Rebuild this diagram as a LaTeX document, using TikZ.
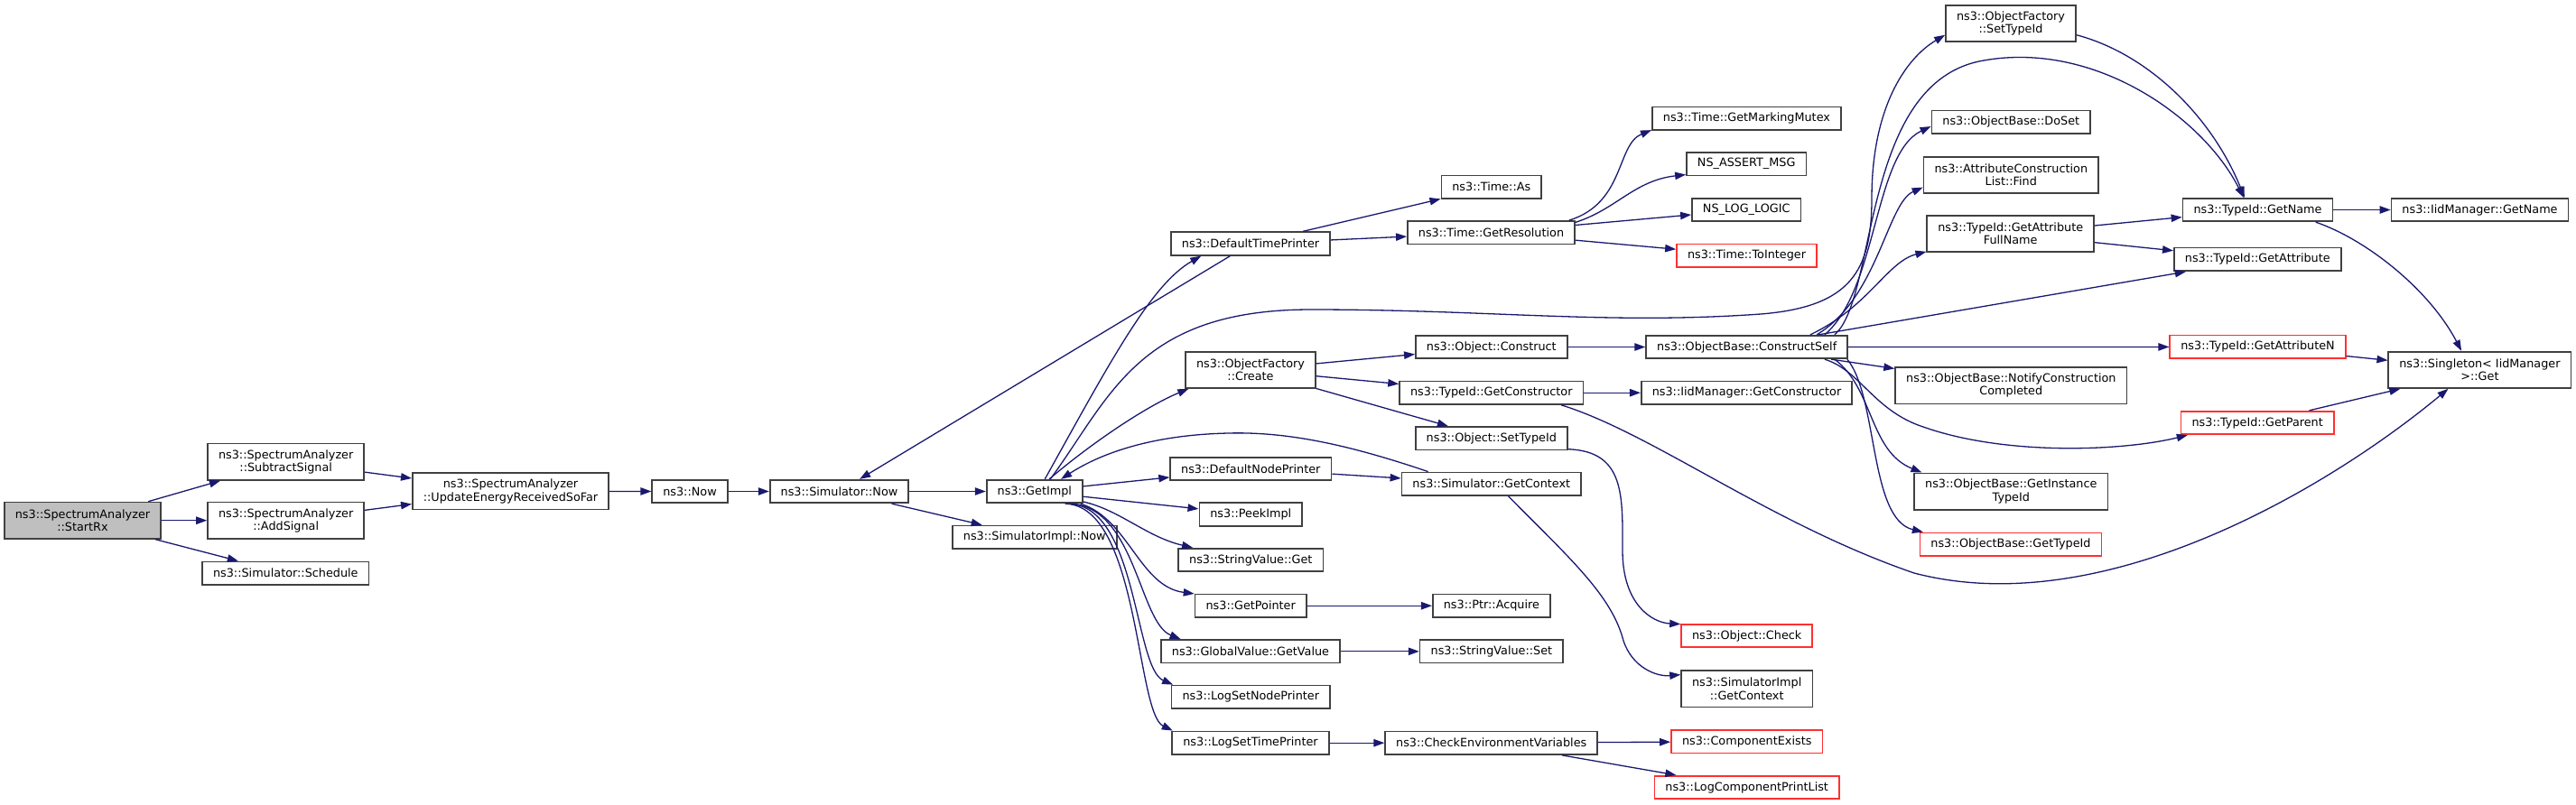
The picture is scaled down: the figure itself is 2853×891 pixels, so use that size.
\documentclass[tikz,border=0pt]{standalone}
\usepackage{fontspec}
\setmainfont{DejaVu Sans}
\usetikzlibrary{arrows.meta}
\definecolor{callblue}{HTML}{191970}
\definecolor{boxgray}{HTML}{404040}
\definecolor{trunc}{HTML}{FF3030}

\begin{document}
\begin{tikzpicture}[x=0.5pt, y=-0.5pt,
  font=\fontsize{6.4}{7.2}\selectfont,
  >={Triangle[length=6pt,width=4.2pt]},
  box/.style={draw=boxgray, line width=0.85pt, fill=white, align=center,
              inner xsep=6pt, inner ysep=0pt, minimum height=12.8pt},
  box2/.style={box, minimum height=20.15pt},
  root/.style={fill=black!25},
  cut/.style={draw=trunc},
  call/.style={->, draw=callblue, line width=0.65pt}]
  \path[use as bounding box, fill=white] (0,0) rectangle (2853,891);
  \node[box2, root] (startrx) at (91.5,576.7) {ns3::SpectrumAnalyzer\\::StartRx};
  \node[box2] (subsig) at (316.7,511.7) {ns3::SpectrumAnalyzer\\::SubtractSignal};
  \node[box2] (addsig) at (316.7,576.7) {ns3::SpectrumAnalyzer\\::AddSignal};
  \node[box] (sched) at (316.3,635.2) {ns3::Simulator::Schedule};
  \node[box2] (update) at (565.5,544.3) {ns3::SpectrumAnalyzer\\::UpdateEnergyReceivedSoFar};
  \node[box] (now) at (764,544.5) {ns3::Now};
  \node[box] (simnow) at (929.5,544.5) {ns3::Simulator::Now};
  \node[box] (getimpl) at (1145.8,544.5) {ns3::GetImpl};
  \node[box] (implnow) at (1145.8,595.3) {ns3::SimulatorImpl::Now};
  \node[box] (deftime) at (1385,270) {ns3::DefaultTimePrinter};
  \node[box2] (create) at (1385,409.8) {ns3::ObjectFactory\\::Create};
  \node[box] (defnode) at (1385.3,519.5) {ns3::DefaultNodePrinter};
  \node[box] (peek) at (1385.3,570) {ns3::PeekImpl};
  \node[box] (strget) at (1385.3,620.5) {ns3::StringValue::Get};
  \node[box] (getptr) at (1385.2,671.2) {ns3::GetPointer};
  \node[box] (gvget) at (1385,721.8) {ns3::GlobalValue::GetValue};
  \node[box] (lognode) at (1385.3,772.3) {ns3::LogSetNodePrinter};
  \node[box] (logtime) at (1385,823.2) {ns3::LogSetTimePrinter};
  \node[box] (timeas) at (1651.8,207.2) {ns3::Time::As};
  \node[box] (getres) at (1651.5,257.8) {ns3::Time::GetResolution};
  \node[box] (construct) at (1651.8,384.5) {ns3::Object::Construct};
  \node[box] (getctor) at (1651.8,435.2) {ns3::TypeId::GetConstructor};
  \node[box] (objtid) at (1651.8,485.8) {ns3::Object::SetTypeId};
  \node[box] (getctx) at (1651.8,536.2) {ns3::Simulator::GetContext};
  \node[box] (acquire) at (1651.9,671.2) {ns3::Ptr::Acquire};
  \node[box] (strset) at (1651.9,721.8) {ns3::StringValue::Set};
  \node[box] (checkenv) at (1651.7,823.2) {ns3::CheckEnvironmentVariables};
  \node[box] (mutex) at (1934.4,131.2) {ns3::Time::GetMarkingMutex};
  \node[box] (assert) at (1934.2,181.7) {NS\_ASSERT\_MSG};
  \node[box] (loglogic) at (1934.2,232.5) {NS\_LOG\_LOGIC};
  \node[box, cut] (toint) at (1934.5,283.2) {ns3::Time::ToInteger};
  \node[box] (cself) at (1934.7,384.5) {ns3::ObjectBase::ConstructSelf};
  \node[box] (iidctor) at (1934.5,435.2) {ns3::IidManager::GetConstructor};
  \node[box, cut] (check) at (1934.7,704.5) {ns3::Object::Check};
  \node[box2] (implctx) at (1934.7,763.2) {ns3::SimulatorImpl\\::GetContext};
  \node[box, cut] (exists) at (1934.7,821.7) {ns3::ComponentExists};
  \node[box, cut] (printlist) at (1934.7,872.5) {ns3::LogComponentPrintList};
  \node[box2] (factid) at (2227,25.9) {ns3::ObjectFactory\\::SetTypeId};
  \node[box] (doset) at (2227.3,135.4) {ns3::ObjectBase::DoSet};
  \node[box2] (find) at (2227.3,193.9) {ns3::AttributeConstruction\\List::Find};
  \node[box2] (fullname) at (2226.7,259) {ns3::TypeId::GetAttribute\\FullName};
  \node[box2] (notify) at (2227.3,427.2) {ns3::ObjectBase::NotifyConstruction\\Completed};
  \node[box2] (instid) at (2227.3,544.5) {ns3::ObjectBase::GetInstance\\TypeId};
  \node[box, cut] (gettid) at (2227,603.2) {ns3::ObjectBase::GetTypeId};
  \node[box] (getname) at (2500.5,232.5) {ns3::TypeId::GetName};
  \node[box] (getattr) at (2500.3,287.4) {ns3::TypeId::GetAttribute};
  \node[box, cut] (getattrn) at (2500.5,384.4) {ns3::TypeId::GetAttributeN};
  \node[box, cut] (parent) at (2500.2,468.5) {ns3::TypeId::GetParent};
  \node[box] (iidname) at (2746.5,232.5) {ns3::IidManager::GetName};
  \node[box2] (single) at (2746.4,409.8) {ns3::Singleton< IidManager\\>::Get};
  \draw[call] (startrx) -- (subsig);
  \draw[call] (startrx) -- (addsig);
  \draw[call] (startrx) -- (sched);
  \draw[call] (subsig) -- (update);
  \draw[call] (addsig) -- (update);
  \draw[call] (update) -- (now);
  \draw[call] (now) -- (simnow);
  \draw[call] (simnow) -- (getimpl);
  \draw[call] (simnow) -- (implnow);
  \draw[call] (deftime) -- (simnow);
  \draw[call] (getimpl.50) .. controls (1230,400) and (1275,315) .. (deftime.194);
  \draw[call] (getimpl.40) .. controls (1210,490) and (1270,450) .. (create.197);
  \draw[call] (getimpl.38) .. controls (1230,440) and (1260,343) .. (1452,343)
    .. controls (1650,343) and (1780,360) .. (1950,348)
    .. controls (2050,340) and (2073,300) .. (2073,220)
    .. controls (2073,120) and (2110,65) .. (factid.190);
  \draw[call] (getimpl) -- (defnode);
  \draw[call] (getimpl) -- (peek);
  \draw[call] (getimpl.-12) .. controls (1240,565) and (1270,595) .. (strget.168);
  \draw[call] (getimpl.-15) .. controls (1250,575) and (1262,650) .. (getptr.168);
  \draw[call] (getimpl.-18) .. controls (1258,565) and (1262,690) .. (gvget.170);
  \draw[call] (getimpl.-20) .. controls (1260,560) and (1256,740) .. (lognode.171);
  \draw[call] (getimpl.-22) .. controls (1262,560) and (1258,790) .. (logtime.171);
  \draw[call] (getctx.169) .. controls (1500,495) and (1430,478) .. (1360,480)
    .. controls (1270,482) and (1215,505) .. (getimpl.25);
  \draw[call] (deftime) -- (timeas);
  \draw[call] (deftime) -- (getres);
  \draw[call] (getres.9) .. controls (1800,225) and (1790,160) .. (mutex.187);
  \draw[call] (getres.7) .. controls (1790,232) and (1810,200) .. (assert.190);
  \draw[call] (getres) -- (loglogic);
  \draw[call] (getres) -- (toint);
  \draw[call] (create) -- (construct);
  \draw[call] (create) -- (getctor);
  \draw[call] (create) -- (objtid);
  \draw[call] (construct) -- (cself);
  \draw[call] (getctor) -- (iidctor);
  \draw[call] (getctor.-10) .. controls (1830,480) and (1960,580) .. (2120,635)
    .. controls (2330,690) and (2580,540) .. (single.211);
  \draw[call] (objtid.-8) .. controls (1800,500) and (1797,550) .. (1797,610)
    .. controls (1797,670) and (1830,690) .. (check.170);
  \draw[call] (getctx.-36) .. controls (1740,620) and (1785,660) .. (1798,710)
    .. controls (1808,740) and (1835,750) .. (implctx.168);
  \draw[call] (defnode) -- (getctx);
  \draw[call] (getptr) -- (acquire);
  \draw[call] (gvget) -- (strset);
  \draw[call] (logtime) -- (checkenv);
  \draw[call] (checkenv) -- (exists);
  \draw[call] (checkenv) -- (printlist);
  \draw[call] (cself.8) .. controls (2080,330) and (2060,90) .. (2197,67)
    .. controls (2320,45) and (2440,130) .. (getname.139);
  \draw[call] (cself.9) .. controls (2080,320) and (2075,170) .. (doset.183);
  \draw[call] (cself.10) .. controls (2080,330) and (2090,225) .. (find.188);
  \draw[call] (cself.11) .. controls (2070,340) and (2090,290) .. (fullname.192);
  \draw[call] (cself) -- (getattr);
  \draw[call] (cself) -- (getattrn);
  \draw[call] (cself) -- (notify);
  \draw[call] (cself.-9) .. controls (2060,410) and (2075,455) .. (2130,473)
    .. controls (2220,505) and (2350,500) .. (parent.190);
  \draw[call] (cself.-8) .. controls (2075,430) and (2070,500) .. (instid.168);
  \draw[call] (cself.-7) .. controls (2080,440) and (2070,575) .. (gettid.172);
  \draw[call] (factid.-10) .. controls (2380,60) and (2450,130) .. (getname.137);
  \draw[call] (fullname) -- (getname);
  \draw[call] (fullname) -- (getattr);
  \draw[call] (getname) -- (iidname);
  \draw[call] (getname.-12) .. controls (2620,265) and (2690,320) .. (single.134);
  \draw[call] (getattrn) -- (single);
  \draw[call] (parent) -- (single);
\end{tikzpicture}
\end{document}
